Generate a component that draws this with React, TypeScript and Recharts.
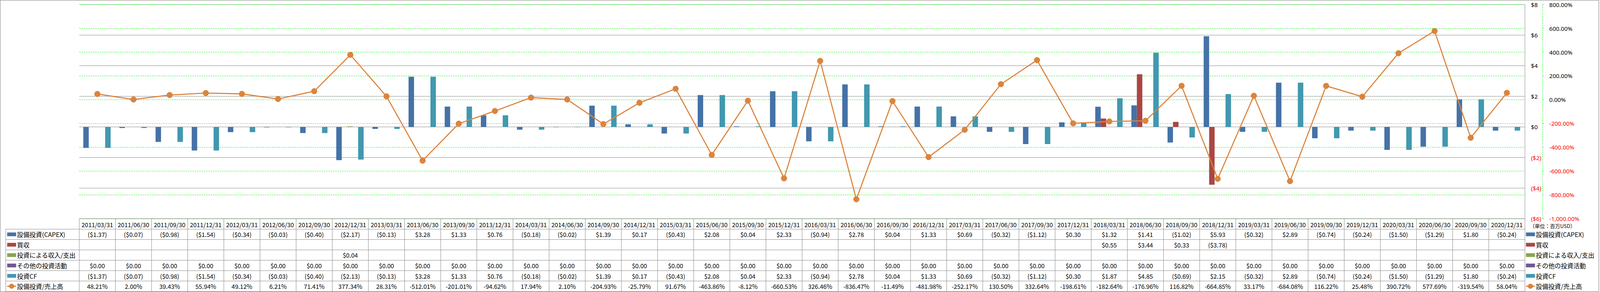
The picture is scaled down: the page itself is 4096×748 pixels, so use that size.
import React from 'react';
import { ComposedChart, Bar, Line, XAxis, YAxis, CartesianGrid } from 'recharts';

const dates = [
  '2011/03/31', '2011/06/30', '2011/09/30', '2011/12/31',
  '2012/03/31', '2012/06/30', '2012/09/30', '2012/12/31',
  '2013/03/31', '2013/06/30', '2013/09/30', '2013/12/31',
  '2014/03/31', '2014/06/30', '2014/09/30', '2014/12/31',
  '2015/03/31', '2015/06/30', '2015/09/30', '2015/12/31',
  '2016/03/31', '2016/06/30', '2016/09/30', '2016/12/31',
  '2017/03/31', '2017/06/30', '2017/09/30', '2017/12/31',
  '2018/03/31', '2018/06/30', '2018/09/30', '2018/12/31',
  '2019/03/31', '2019/06/30', '2019/09/30', '2019/12/31',
  '2020/03/31', '2020/06/30', '2020/09/30', '2020/12/31',
];

const capex: (number | null)[] = [
  -1.37, -0.07, -0.98, -1.54, -0.34, -0.03, -0.40, -2.17,
  -0.13, 3.28, 1.33, 0.76, -0.18, -0.02, 1.39, 0.17,
  -0.43, 2.08, 0.04, 2.33, -0.94, 2.78, 0.04, 1.33,
  0.69, -0.32, -1.12, 0.30, 1.32, 1.41, -1.02, 5.93,
  -0.32, 2.89, -0.74, -0.24, -1.50, -1.29, 1.80, -0.24,
];

const acquisitions: (number | null)[] = [
  null, null, null, null, null, null, null, null,
  null, null, null, null, null, null, null, null,
  null, null, null, null, null, null, null, null,
  null, null, null, null, 0.55, 3.44, 0.33, -3.78,
  null, null, null, null, null, null, null, null,
];

const investIncome: (number | null)[] = [
  null, null, null, null, null, null, null, 0.04,
  null, null, null, null, null, null, null, null,
  null, null, null, null, null, null, null, null,
  null, null, null, null, null, null, null, null,
  null, null, null, null, null, null, null, null,
];

const otherInvest: (number | null)[] = [
  0.00, 0.00, 0.00, 0.00, 0.00, 0.00, 0.00, 0.00,
  0.00, 0.00, 0.00, 0.00, 0.00, 0.00, 0.00, 0.00,
  0.00, 0.00, 0.00, 0.00, 0.00, 0.00, 0.00, 0.00,
  0.00, 0.00, 0.00, 0.00, 0.00, 0.00, 0.00, 0.00,
  0.00, 0.00, 0.00, 0.00, 0.00, 0.00, 0.00, 0.00,
];

const investCF: (number | null)[] = [
  -1.37, -0.07, -0.98, -1.54, -0.34, -0.03, -0.40, -2.13,
  -0.13, 3.28, 1.33, 0.76, -0.18, -0.02, 1.39, 0.17,
  -0.43, 2.08, 0.04, 2.33, -0.94, 2.78, 0.04, 1.33,
  0.69, -0.32, -1.12, 0.30, 1.87, 4.85, -0.69, 2.15,
  -0.32, 2.89, -0.74, -0.24, -1.50, -1.29, 1.80, -0.24,
];

const capexRatio: number[] = [
  48.21, 2.00, 39.43, 55.94, 49.12, 6.21, 71.41, 377.34,
  28.31, -512.01, -201.01, -94.62, 17.94, 2.10, -204.93, -25.79,
  91.67, -463.86, -8.12, -660.53, 326.46, -836.47, -11.49, -481.98,
  -252.17, 130.50, 332.64, -198.61, -182.64, -176.96, 116.82, -664.85,
  33.17, -684.08, 116.22, 25.48, 390.72, 577.69, -319.54, 58.04,
];

const usdTicks = [-6, -4, -2, 0, 2, 4, 6, 8];
const pctTicks = [-1000, -800, -600, -400, -200, 0, 200, 400, 600, 800];

const seriesNames = ['設備投資(CAPEX)', '買収', '投資による収入/支出', 'その他の投資活動', '投資CF', '設備投資/売上高'];
const seriesColors = ['#4572A7', '#AA4643', '#89A54E', '#71588F', '#4198AF', '#DB843D'];
const unitLabel = '（単位：百万USD）';

const chartData = dates.map((d, i) => ({
  date: d,
  capex: capex[i],
  acq: acquisitions[i],
  income: investIncome[i],
  other: otherInvest[i],
  cf: investCF[i],
  ratio: capexRatio[i],
}));

// layout (reference px * 0.871)
const S = 0.871;
const W = 4094;
const H = 748;
const PLOT_L = 233 * S;
const PLOT_R = 4482 * S;
const PLOT_T = 13.3 * S;
const PLOT_B = 643.3 * S;
const PCT_AXIS_X = 4534 * S;
const USD_AXIS_W = PCT_AXIS_X - PLOT_R;
const PCT_AXIS_W = W - PCT_AXIS_X;

const TBL_TOP = 643.3 * S;
const HDR_B = 674 * S;
const ROW_H = ((857 - 674) / 6) * S;
const LBL_L = 17 * S;

const GREY = '#868686';
const GREEN = '#00FF00';
const RED = '#FF0000';
const AXIS_FONT = '"Noto Sans", "Open Sans", sans-serif';
const TABLE_FONT = '"Noto Sans CJK JP", "Noto Sans", sans-serif';

const fmtMoney = (v: number | null) => {
  if (v === null || v === undefined) return '';
  return v < 0 ? `($${Math.abs(v).toFixed(2)})` : `$${v.toFixed(2)}`;
};
const fmtPct = (v: number | null) => (v === null || v === undefined ? '' : `${v.toFixed(2)}%`);
const fmtUsdTick = (v: number) => (v < 0 ? `($${-v})` : `$${v}`);
const fmtPctTick = (v: number) =>
  `${v.toLocaleString('en-US', { minimumFractionDigits: 2, maximumFractionDigits: 2 })}%`;

const UsdTick = (props: any) => {
  const { x, y, payload } = props;
  const v = payload.value as number;
  return (
    <text x={x} y={y} textAnchor="start" dominantBaseline="central" fontSize={15} fontFamily={AXIS_FONT} fill={v < 0 ? RED : '#000'}>
      {fmtUsdTick(v)}
    </text>
  );
};

const PctTick = (props: any) => {
  const { x, y, payload } = props;
  const v = payload.value as number;
  return (
    <text x={x} y={y} textAnchor="start" dominantBaseline="central" fontSize={15} fontFamily={AXIS_FONT} fill={v < 0 ? RED : '#000'}>
      {fmtPctTick(v)}
    </text>
  );
};

const tableRows = [
  { values: capex, fmt: fmtMoney, kind: 'bar' },
  { values: acquisitions, fmt: fmtMoney, kind: 'bar' },
  { values: investIncome, fmt: fmtMoney, kind: 'bar' },
  { values: otherInvest, fmt: fmtMoney, kind: 'bar' },
  { values: investCF, fmt: fmtMoney, kind: 'bar' },
  { values: capexRatio, fmt: fmtPct, kind: 'line' },
];

const LegendKey = ({ x, cy, color, kind }: { x: number; cy: number; color: string; kind: string }) => {
  const w = 23;
  if (kind === 'line') {
    return (
      <g>
        <line x1={x} x2={x + w} y1={cy} y2={cy} stroke={color} strokeWidth={3} />
        <circle cx={x + w / 2} cy={cy} r={6.5} fill={color} />
      </g>
    );
  }
  return <rect x={x} y={cy - 4.8} width={w} height={9.6} fill={color} />;
};

const DataTable = () => {
  const n = dates.length;
  const colW = (PLOT_R - PLOT_L) / n;
  const tblBottom = HDR_B + ROW_H * tableRows.length;
  const lines: React.ReactNode[] = [];
  lines.push(<line key="ht" x1={PLOT_L} x2={PLOT_R} y1={TBL_TOP} y2={TBL_TOP} stroke={GREY} strokeWidth={1} />);
  for (let r = 0; r <= tableRows.length; r++) {
    const y = HDR_B + r * ROW_H;
    lines.push(<line key={`h${r}`} x1={LBL_L} x2={PLOT_R} y1={y} y2={y} stroke={GREY} strokeWidth={1} />);
  }
  lines.push(<line key="vl" x1={LBL_L} x2={LBL_L} y1={HDR_B} y2={tblBottom} stroke={GREY} strokeWidth={1} />);
  for (let c = 0; c <= n; c++) {
    const x = PLOT_L + c * colW;
    lines.push(<line key={`v${c}`} x1={x} x2={x} y1={TBL_TOP} y2={tblBottom} stroke={GREY} strokeWidth={1} />);
  }
  const texts: React.ReactNode[] = [];
  dates.forEach((d, i) => {
    texts.push(
      <text key={`d${i}`} x={PLOT_L + (i + 0.5) * colW} y={(TBL_TOP + HDR_B) / 2 + 1} textAnchor="middle" dominantBaseline="central" fontSize={15.5} fontFamily={TABLE_FONT} fill="#000">
        {d}
      </text>
    );
  });
  tableRows.forEach((row, r) => {
    const cy = HDR_B + (r + 0.5) * ROW_H;
    texts.push(<LegendKey key={`k${r}`} x={18.3} cy={cy} color={seriesColors[r]} kind={row.kind} />);
    texts.push(
      <text key={`l${r}`} x={43.5} y={cy} dominantBaseline="central" fontSize={16} fontFamily={TABLE_FONT} fill="#000">
        {seriesNames[r]}
      </text>
    );
    row.values.forEach((v, i) => {
      const s = row.fmt(v as number | null);
      if (!s) return;
      texts.push(
        <text key={`c${r}-${i}`} x={PLOT_L + (i + 0.5) * colW} y={cy} textAnchor="middle" dominantBaseline="central" fontSize={15.5} fontFamily={TABLE_FONT} fill="#000">
          {s}
        </text>
      );
    });
  });
  const legend: React.ReactNode[] = [];
  legend.push(
    <text key="unit" x={4496 * S} y={664 * S} dominantBaseline="central" fontSize={13} fontFamily={TABLE_FONT} fill="#000">
      {unitLabel}
    </text>
  );
  tableRows.forEach((row, r) => {
    const cy = HDR_B + (r + 0.5) * ROW_H;
    legend.push(<LegendKey key={`lk${r}`} x={4485 * S} cy={cy} color={seriesColors[r]} kind={row.kind} />);
    legend.push(
      <text key={`lt${r}`} x={4514 * S} y={cy} dominantBaseline="central" fontSize={16} fontFamily={TABLE_FONT} fill="#000">
        {seriesNames[r]}
      </text>
    );
  });
  return (
    <svg width={W} height={H} style={{ position: 'absolute', left: 0, top: 0, pointerEvents: 'none' }}>
      {lines}
      {texts}
      {legend}
      <rect x={0.5} y={0.5} width={W - 1.5} height={H - 1.5} fill="none" stroke={GREY} strokeWidth={1.2} />
    </svg>
  );
};

export default function App() {
  return (
    <div style={{ position: 'absolute', left: 0, top: 0, width: W, height: H, background: '#fff' }}>
      <ComposedChart
        width={W}
        height={H}
        data={chartData}
        margin={{ top: PLOT_T, bottom: H - PLOT_B, left: PLOT_L, right: 0 }}
        barCategoryGap="11.1%"
        barGap={0}
      >
        <CartesianGrid yAxisId="a_usd" vertical={false} stroke={GREY} strokeWidth={1} />
        <CartesianGrid yAxisId="b_pct" vertical={false} stroke={GREEN} strokeWidth={1} strokeDasharray="3.5 2.3" />
        <XAxis dataKey="date" hide />
        <YAxis
          yAxisId="b_pct"
          orientation="right"
          width={PCT_AXIS_W}
          domain={[-1000, 800]}
          ticks={pctTicks}
          interval={0}
          allowDataOverflow
          axisLine={{ stroke: GREEN, strokeWidth: 1, strokeDasharray: '3.5 2.3' }}
          tickLine={{ stroke: GREEN, strokeWidth: 1 }}
          tickSize={3.5}
          tickMargin={13.5}
          tick={<PctTick />}
        />
        <YAxis
          yAxisId="a_usd"
          orientation="right"
          width={USD_AXIS_W}
          domain={[-6, 8]}
          ticks={usdTicks}
          interval={0}
          allowDataOverflow
          axisLine={{ stroke: GREY, strokeWidth: 1 }}
          tickLine={false}
          tickSize={0}
          tickMargin={15.5}
          tick={<UsdTick />}
        />
        <Bar yAxisId="a_usd" dataKey="capex" fill={seriesColors[0]} isAnimationActive={false} />
        <Bar yAxisId="a_usd" dataKey="acq" fill={seriesColors[1]} isAnimationActive={false} />
        <Bar yAxisId="a_usd" dataKey="income" fill={seriesColors[2]} isAnimationActive={false} />
        <Bar yAxisId="a_usd" dataKey="other" fill={seriesColors[3]} isAnimationActive={false} />
        <Bar yAxisId="a_usd" dataKey="cf" fill={seriesColors[4]} isAnimationActive={false} />
        <Line
          yAxisId="b_pct"
          dataKey="ratio"
          stroke={seriesColors[5]}
          strokeWidth={2.8}
          dot={{ r: 7.3, fill: seriesColors[5], stroke: seriesColors[5], strokeWidth: 1 }}
          activeDot={false}
          isAnimationActive={false}
        />
      </ComposedChart>
      <DataTable />
    </div>
  );
}
